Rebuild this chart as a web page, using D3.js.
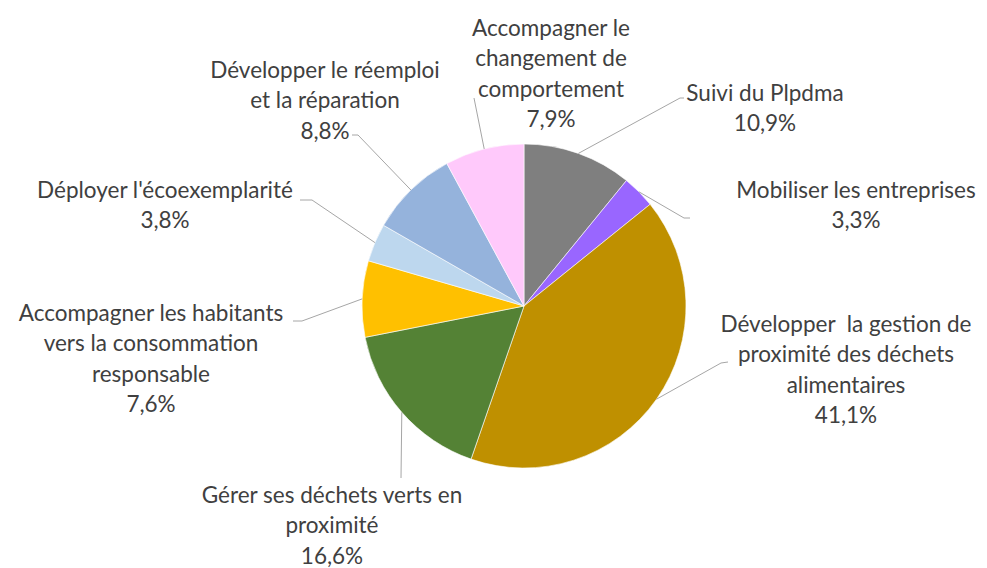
<!DOCTYPE html>
<html>
<head>
<meta charset="utf-8">
<script src="https://d3js.org/d3.v7.min.js"></script>
<style>
  body { margin: 0; background: #fff; }
  text { font-family: Lato, "Open Sans", sans-serif; fill: #404040; white-space: pre; }
</style>
</head>
<body>
<script>
// slices, clockwise from 12 o'clock
var categories = [
  "Suivi du Plpdma",
  "Mobiliser les entreprises",
  "Développer  la gestion de proximité des déchets alimentaires",
  "Gérer ses déchets verts en proximité",
  "Accompagner les habitants vers la consommation responsable",
  "Déployer l'écoexemplarité",
  "Développer le réemploi et la réparation",
  "Accompagner le changement de comportement"
];
var values = [10.9, 3.3, 41.1, 16.6, 7.6, 3.8, 8.8, 7.9];
// how each category name is wrapped in its label
var labelLines = [
  ["Suivi du Plpdma"],
  ["Mobiliser les entreprises"],
  ["Développer  la gestion de", "proximité des déchets", "alimentaires"],
  ["Gérer ses déchets verts en", "proximité"],
  ["Accompagner les habitants", "vers la consommation", "responsable"],
  ["Déployer l'écoexemplarité"],
  ["Développer le réemploi", "et la réparation"],
  ["Accompagner le", "changement de", "comportement"]
];
var colors = ["#7f7f7f", "#9966ff", "#bf9000", "#548235", "#ffc000", "#bdd7ee", "#95b3dc", "#ffc9fb"];

// label placement (text block centre x, first line y, leader elbow + end)
var labelLayout = [
  { x: 765, y: 93,  elbow: [680, 98],  end: [684, 98] },
  { x: 856, y: 190, elbow: [684, 218], end: [690, 218] },
  { x: 846, y: 324, elbow: [721, 363], end: [728, 362] },
  { x: 332, y: 495, elbow: [401, 478], end: [401, 478] },
  { x: 151, y: 313, elbow: [302, 321], end: [293, 321] },
  { x: 165, y: 190, elbow: [312, 200], end: [300, 200] },
  { x: 325, y: 70,  elbow: [358, 135], end: [352, 135] },
  { x: 551, y: 28,  elbow: [474, 98],  end: [474, 98] }
];

var width = 987, height = 568;
var cx = 524, cy = 306, radius = 162, lineH = 30.5;

var svg = d3.select("body").append("svg")
  .attr("width", width)
  .attr("height", height);

var fr = d3.formatLocale({ decimal: ",", thousands: " ", grouping: [3], currency: ["", "€"] });
var pct = fr.format(".1%");
var total = d3.sum(values);

var pie = d3.pie().sort(null).value(function (d) { return d; });
var arcs = pie(values);
var arc = d3.arc().innerRadius(0).outerRadius(radius);

var g = svg.append("g").attr("transform", "translate(" + cx + "," + cy + ")");

g.selectAll("path.slice")
  .data(arcs)
  .enter()
  .append("path")
  .attr("class", "slice")
  .attr("d", arc)
  .attr("fill", function (d, i) { return colors[i]; })
  .attr("stroke", "#fff")
  .attr("stroke-width", 0.6);

// leader lines: from the slice's outer edge at its mid angle to the label
svg.selectAll("polyline.leader")
  .data(arcs)
  .enter()
  .append("polyline")
  .attr("class", "leader")
  .attr("fill", "none")
  .attr("stroke", "#a6a6a6")
  .attr("stroke-width", 1)
  .attr("points", function (d, i) {
    var a = (d.startAngle + d.endAngle) / 2;
    var p0 = [cx + radius * Math.sin(a), cy - radius * Math.cos(a)];
    var L = labelLayout[i];
    return [p0, L.elbow, L.end].map(function (p) { return p.join(","); }).join(" ");
  });

// labels
var labels = svg.selectAll("text.lbl")
  .data(arcs)
  .enter()
  .append("text")
  .attr("class", "lbl")
  .attr("text-anchor", "middle")
  .style("font-size", "22.5px");

labels.each(function (d, i) {
  var t = d3.select(this);
  var L = labelLayout[i];
  var lines = labelLines[i].concat([pct(values[i] / total)]);
  lines.forEach(function (s, k) {
    t.append("tspan")
      .attr("x", L.x)
      .attr("y", L.y + k * lineH)
      .attr("dy", "0.35em")
      .text(s);
  });
});
</script>
</body>
</html>
